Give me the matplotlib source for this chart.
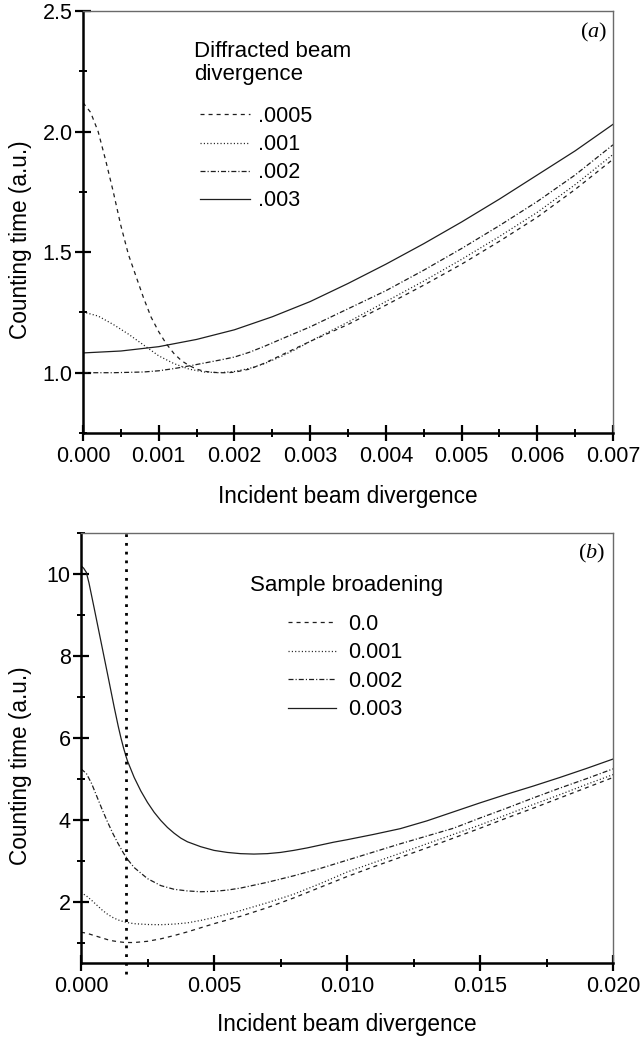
import matplotlib
matplotlib.use('Agg')
import matplotlib.pyplot as plt
from matplotlib import font_manager
from matplotlib.ticker import MultipleLocator, FormatStrFormatter
from matplotlib.lines import Line2D

names = {f.name for f in font_manager.fontManager.ttflist}
if 'Liberation Sans Narrow' in names:
    NARROW, TICK_FS, LAB_FS = 'Liberation Sans Narrow', 18.0, 19.5
else:
    NARROW, TICK_FS, LAB_FS = 'Liberation Sans', 15.5, 16.3
REG = 'Liberation Sans'

plt.rcParams['lines.scale_dashes'] = False
plt.rcParams['mathtext.fontset'] = 'custom'
plt.rcParams['mathtext.rm'] = 'Liberation Serif'
plt.rcParams['mathtext.it'] = 'Liberation Serif:italic'

# ---------------- Panel (a) data ----------------
a_legend_title = ['Diffracted beam', 'divergence']
a_labels = ['.0005', '.001', '.002', '.003']

a_x_0005 = [0, 0.0001, 0.0002, 0.0003, 0.0004, 0.0005, 0.0006, 0.0007, 0.0008, 0.0009,
            0.001, 0.0011, 0.0012, 0.0013, 0.0014, 0.0015, 0.0016, 0.0017, 0.0018, 0.0019,
            0.002, 0.0022, 0.0024, 0.0026, 0.0028, 0.003, 0.0035, 0.004, 0.0045, 0.005,
            0.0055, 0.006, 0.0065, 0.007]
a_y_0005 = [2.12, 2.08, 2.00, 1.88, 1.75, 1.61, 1.49, 1.40, 1.31, 1.23,
            1.17, 1.12, 1.08, 1.05, 1.03, 1.015, 1.006, 1.002, 1.0, 1.0,
            1.002, 1.015, 1.04, 1.07, 1.10, 1.13, 1.20, 1.28, 1.363, 1.45,
            1.545, 1.645, 1.76, 1.885]

a_x_001 = [0, 0.0002, 0.0004, 0.0006, 0.0008, 0.001, 0.0012, 0.0014, 0.0016, 0.0018,
           0.002, 0.0022, 0.0024, 0.0026, 0.0028, 0.003, 0.0035, 0.004, 0.0045, 0.005,
           0.0055, 0.006, 0.0065, 0.007]
a_y_001 = [1.252, 1.235, 1.20, 1.16, 1.115, 1.07, 1.038, 1.015, 1.003, 1.0,
           1.005, 1.018, 1.038, 1.065, 1.095, 1.13, 1.21, 1.295, 1.38, 1.47,
           1.565, 1.665, 1.78, 1.905]

a_x_002 = [0, 0.0004, 0.0008, 0.001, 0.0012, 0.0014, 0.0016, 0.0018, 0.002, 0.0022,
           0.0024, 0.0026, 0.003, 0.0035, 0.004, 0.0045, 0.005, 0.0055, 0.006, 0.0065, 0.007]
a_y_002 = [1.0, 1.0, 1.003, 1.008, 1.017, 1.028, 1.04, 1.052, 1.065, 1.085,
           1.11, 1.137, 1.19, 1.265, 1.34, 1.425, 1.515, 1.61, 1.71, 1.82, 1.945]

a_x_003 = [0, 0.0005, 0.001, 0.0015, 0.002, 0.0025, 0.003, 0.0035, 0.004, 0.0045,
           0.005, 0.0055, 0.006, 0.0065, 0.007]
a_y_003 = [1.082, 1.09, 1.108, 1.138, 1.178, 1.232, 1.295, 1.37, 1.45, 1.535,
           1.625, 1.72, 1.82, 1.92, 2.03]

# ---------------- Panel (b) data ----------------
b_legend_title = 'Sample broadening'
b_labels = ['0.0', '0.001', '0.002', '0.003']
b_marker_x = 0.0017   # vertical dotted reference line

b_x_000 = [0, 0.0002, 0.0004, 0.0006, 0.0008, 0.001, 0.0012, 0.0014, 0.0016, 0.0018,
           0.002, 0.0025, 0.003, 0.0035, 0.004, 0.0045, 0.005, 0.006, 0.007, 0.008,
           0.009, 0.01, 0.011, 0.012, 0.013, 0.014, 0.015, 0.016, 0.017, 0.018, 0.019, 0.02]
b_y_000 = [1.25, 1.23, 1.19, 1.15, 1.11, 1.07, 1.04, 1.02, 1.005, 1.0,
           1.0, 1.03, 1.09, 1.17, 1.26, 1.36, 1.46, 1.64, 1.85, 2.09,
           2.35, 2.61, 2.85, 3.08, 3.31, 3.55, 3.79, 4.04, 4.28, 4.53, 4.78, 5.03]

b_x_001 = [0, 0.0002, 0.0004, 0.0006, 0.0008, 0.001, 0.0012, 0.0014, 0.0016, 0.0018,
           0.002, 0.0025, 0.003, 0.0035, 0.004, 0.0045, 0.005, 0.006, 0.007, 0.008,
           0.009, 0.01, 0.011, 0.012, 0.013, 0.014, 0.015, 0.016, 0.017, 0.018, 0.019, 0.02]
b_y_001 = [2.22, 2.14, 2.03, 1.91, 1.79, 1.69, 1.61, 1.55, 1.51, 1.48,
           1.46, 1.44, 1.435, 1.45, 1.48, 1.54, 1.61, 1.78, 1.97, 2.18,
           2.44, 2.72, 2.95, 3.18, 3.41, 3.64, 3.87, 4.12, 4.37, 4.61, 4.86, 5.10]

b_x_002 = [0, 0.0002, 0.0004, 0.0006, 0.0008, 0.001, 0.0012, 0.0014, 0.0016, 0.0018,
           0.002, 0.0025, 0.003, 0.0035, 0.004, 0.0045, 0.005, 0.0055, 0.006, 0.007, 0.008,
           0.009, 0.01, 0.011, 0.012, 0.013, 0.014, 0.015, 0.016, 0.017, 0.018, 0.019, 0.02]
b_y_002 = [5.24, 5.13, 4.88, 4.56, 4.24, 3.94, 3.66, 3.41, 3.18, 2.99,
           2.83, 2.56, 2.39, 2.30, 2.26, 2.24, 2.25, 2.28, 2.33, 2.47, 2.63,
           2.81, 3.01, 3.21, 3.41, 3.60, 3.79, 4.04, 4.28, 4.53, 4.77, 5.00, 5.24]

b_x_003 = [0, 0.0001, 0.0002, 0.0003, 0.0005, 0.00075, 0.001, 0.00125, 0.0014, 0.0015,
           0.0016, 0.0017, 0.00175, 0.002, 0.00225, 0.0025, 0.00275, 0.003, 0.00325, 0.0035,
           0.00375, 0.004, 0.0045, 0.005, 0.0055, 0.006, 0.0065, 0.007, 0.0075, 0.008,
           0.0085, 0.009, 0.0095, 0.01, 0.011, 0.012, 0.013, 0.014, 0.015, 0.016,
           0.017, 0.018, 0.019, 0.02]
b_y_003 = [10.2, 10.14, 10.04, 9.78, 9.15, 8.35, 7.55, 6.74, 6.28, 6.0,
           5.75, 5.53, 5.43, 5.03, 4.70, 4.42, 4.18, 3.98, 3.81, 3.67,
           3.55, 3.46, 3.34, 3.25, 3.20, 3.17, 3.16, 3.17, 3.20, 3.25,
           3.31, 3.38, 3.45, 3.51, 3.64, 3.78, 3.97, 4.19, 4.41, 4.62,
           4.82, 5.03, 5.25, 5.48]

xlabel = 'Incident beam divergence'
ylabel = 'Counting time (a.u.)'

# ---------------- styles ----------------
CURVE = '#1e1e1e'
LW = 0.9
styles = [
    dict(linestyle=(0, (2.9, 2.9))),              # dashed
    dict(linestyle=(0, (0.8, 1.6))),              # dotted
    dict(linestyle=(0, (3.6, 1.5, 0.8, 1.5))),    # dash-dot
    dict(linestyle='-'),                          # solid
]

fig = plt.figure(figsize=(6.4, 10.39), dpi=100)
W, H = 640.0, 1039.0
axA = fig.add_axes([83 / W, 1 - 433 / H, 530 / W, 422 / H])
axB = fig.add_axes([81 / W, 1 - 963 / H, 532 / W, 430 / H])


def style_axes(ax, xmaj, xmin, ymaj, ymin, xfmt, yfmt):
    for s in ['left', 'bottom']:
        ax.spines[s].set_linewidth(1.8)
        ax.spines[s].set_color('black')
    for s in ['top', 'right']:
        ax.spines[s].set_linewidth(1.0)
        ax.spines[s].set_color('#6a6a6a')
    ax.xaxis.set_major_locator(MultipleLocator(xmaj))
    ax.xaxis.set_minor_locator(MultipleLocator(xmin))
    ax.yaxis.set_major_locator(MultipleLocator(ymaj))
    ax.yaxis.set_minor_locator(MultipleLocator(ymin))
    ax.xaxis.set_major_formatter(FormatStrFormatter(xfmt))
    ax.yaxis.set_major_formatter(FormatStrFormatter(yfmt))
    ax.tick_params(which='major', direction='inout', length=12, width=1.6,
                   top=False, right=False, labelsize=TICK_FS)
    ax.tick_params(which='minor', direction='inout', length=6, width=1.4,
                   top=False, right=False)
    ax.tick_params(axis='x', which='major', pad=3)
    ax.tick_params(axis='y', which='major', pad=1.5)
    for lab in ax.get_xticklabels() + ax.get_yticklabels():
        lab.set_fontfamily(NARROW)
    ax.set_xlabel(xlabel, fontsize=LAB_FS, family=NARROW)
    ax.set_ylabel(ylabel, fontsize=LAB_FS, family=NARROW)


# ---- panel a ----
series_a = [(a_x_0005, a_y_0005), (a_x_001, a_y_001), (a_x_002, a_y_002), (a_x_003, a_y_003)]
for (xs, ys), st in zip(series_a, styles):
    axA.plot(xs, ys, color=CURVE, lw=LW, **st)
axA.set_xlim(0, 0.007)
axA.set_ylim(0.75, 2.5)
style_axes(axA, 0.001, 0.0005, 0.5, 0.25, '%.3f', '%.1f')
axA.xaxis.set_label_coords(0.5, -0.123)
axA.xaxis.label.set_va('top')
axA.yaxis.set_label_coords(-0.096, 0.457)

axA.text(0.2094, 0.891, a_legend_title[0], transform=axA.transAxes,
         fontsize=16, family=REG, va='baseline', ha='left')
axA.text(0.2094, 0.836, a_legend_title[1], transform=axA.transAxes,
         fontsize=16, family=REG, va='baseline', ha='left')
handles_a = [Line2D([], [], color=CURVE, lw=LW, **st) for st in styles]
axA.legend(handles_a, a_labels, loc='upper left', bbox_to_anchor=(0.2208, 0.775),
           frameon=False, borderpad=0, borderaxespad=0, handlelength=2.33,
           handletextpad=0.37, labelspacing=0.33, prop={'family': REG, 'size': 15.5})
axA.text(0.9887, 0.950, r'$\mathrm{(}a\mathrm{)}$', transform=axA.transAxes,
         fontsize=16, ha='right', va='center')

# ---- panel b ----
series_b = [(b_x_000, b_y_000), (b_x_001, b_y_001), (b_x_002, b_y_002), (b_x_003, b_y_003)]
for (xs, ys), st in zip(series_b, styles):
    axB.plot(xs, ys, color=CURVE, lw=LW, **st)
axB.axvline(b_marker_x, ymin=-0.025, ymax=1.0, color='black', lw=2.0,
            linestyle=(0, (2.0, 4.3)), clip_on=False)
axB.set_xlim(0, 0.02)
axB.set_ylim(0.5, 11)
style_axes(axB, 0.005, 0.0025, 2, 1, '%.3f', '%d')
axB.xaxis.set_label_coords(0.5, -0.116)
axB.xaxis.label.set_va('top')
axB.yaxis.set_label_coords(-0.092, 0.458)

axB.text(0.3177, 0.865, b_legend_title, transform=axB.transAxes,
         fontsize=16, family=REG, va='baseline', ha='left')
handles_b = [Line2D([], [], color=CURVE, lw=LW, **st) for st in styles]
axB.legend(handles_b, b_labels, loc='upper left', bbox_to_anchor=(0.389, 0.812),
           frameon=False, borderpad=0, borderaxespad=0, handlelength=2.23,
           handletextpad=0.56, labelspacing=0.35, prop={'family': REG, 'size': 15.5})
axB.text(0.985, 0.953, r'$\mathrm{(}b\mathrm{)}$', transform=axB.transAxes,
         fontsize=16, ha='right', va='center')

fig.savefig('out.png', dpi=100)
